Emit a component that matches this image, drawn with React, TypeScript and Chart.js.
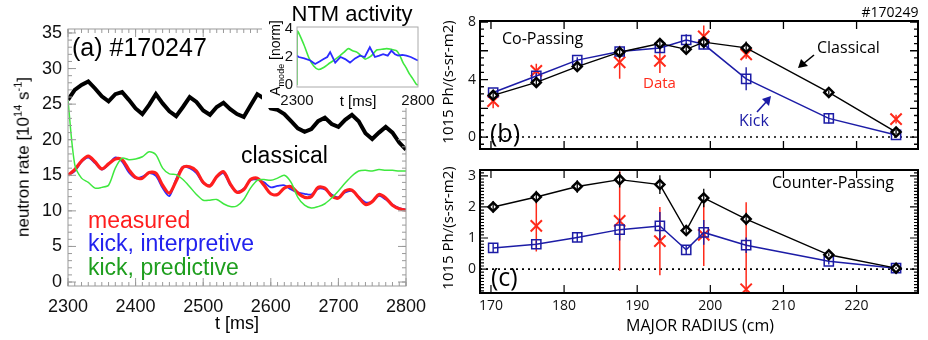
import React, { useEffect, useRef } from "react";
import { Chart, registerables } from "chart.js";

Chart.register(...registerables);

// ---------- panel (a): neutron rate vs time ----------
const TIME_MS = [
  2300, 2310, 2320, 2330, 2340, 2350, 2360, 2370, 2380, 2390,
  2400, 2410, 2420, 2430, 2440, 2450, 2460, 2470, 2480, 2490,
  2500, 2510, 2520, 2530, 2540, 2550, 2560, 2570, 2580, 2590,
  2600, 2610, 2620, 2630, 2640, 2650, 2660, 2670, 2680, 2690,
  2700, 2710, 2720, 2730, 2740, 2750, 2760, 2770, 2780, 2790, 2800,
];
const CLASSICAL = [
  25.6, 27.0, 27.7, 28.2, 27.2, 26.1, 25.4, 26.4, 26.7, 25.6,
  24.4, 23.6, 24.9, 26.4, 25.1, 24.0, 23.3, 24.6, 26.0, 25.3,
  24.1, 23.5, 24.6, 25.2, 24.3, 23.6, 23.2, 24.8, 26.4, 25.8,
  24.4, 24.2, 23.6, 22.6, 21.6, 21.1, 21.5, 22.6, 23.1, 22.2,
  21.8, 22.8, 23.5, 22.6, 20.9, 20.1, 21.0, 21.8, 21.0, 19.6, 18.6,
];
const MEASURED = [
  15.0, 15.8, 17.0, 17.7, 16.9, 15.9, 16.6, 17.3, 17.2, 15.8,
  14.7, 14.6, 15.4, 15.3, 13.6, 12.5, 14.2, 16.1, 16.2, 15.6,
  14.0, 13.5, 14.8, 15.5, 13.8, 12.6, 13.0, 14.4, 14.6, 13.6,
  12.4, 12.3, 13.2, 13.4, 12.5, 11.9, 12.0, 13.3, 13.2, 12.1,
  11.8, 12.8, 12.9, 11.9, 10.9, 11.3, 12.3, 11.8, 10.8, 10.3, 10.1,
];
const KICK_INTERPRETIVE = [
  15.0, 15.6, 16.9, 17.5, 16.7, 15.8, 16.5, 17.5, 16.9, 15.4,
  14.6, 14.8, 15.3, 14.9, 13.2, 12.1, 14.5, 16.2, 16.0, 15.3,
  13.9, 13.6, 14.7, 15.3, 13.6, 12.7, 13.1, 14.3, 14.4, 14.0,
  13.3, 13.5, 13.6, 13.0, 12.6, 12.4, 12.3, 13.1, 13.0, 12.3,
  11.9, 12.6, 12.8, 12.0, 11.2, 11.3, 12.1, 11.6, 10.9, 10.4, 10.2,
];
const KICK_PREDICTIVE = [
  25.5, 16.5, 14.6, 14.0, 13.2, 13.3, 13.6, 16.0, 17.4, 17.2,
  17.3, 17.6, 18.3, 17.9, 16.0, 15.2, 15.1, 14.4, 13.4, 12.3,
  11.5, 11.5, 11.6, 11.0, 10.6, 10.7, 11.6, 13.2, 14.3, 14.4,
  14.3, 14.6, 15.0, 14.0, 11.9, 10.8, 10.4, 10.6, 11.0, 11.8,
  12.8, 13.9, 14.9, 15.6, 15.7, 15.6, 15.8, 15.7, 15.7, 15.6, 15.6,
];
const A_X_TICKS = [2300, 2400, 2500, 2600, 2700, 2800];
const A_Y_TICKS = [0, 5, 10, 15, 20, 25, 30, 35];

// ---------- inset: NTM mode amplitude ----------
const NTM_BLUE_T = [2300, 2307, 2330, 2355, 2375, 2395, 2410, 2425, 2437, 2458, 2480, 2499, 2519, 2540, 2560, 2580, 2601, 2622, 2640, 2656, 2675, 2690, 2705, 2718, 2735, 2752, 2770, 2793, 2800];
const NTM_BLUE = [2.1, 2.0, 1.9, 1.75, 1.5, 1.7, 1.85, 2.0, 2.35, 1.6, 2.0, 1.85, 1.6, 1.9, 2.1, 2.0, 2.7, 2.0, 2.1, 2.2, 2.1, 2.45, 2.2, 2.1, 2.15, 2.1, 2.0, 1.8, 1.75];
const NTM_GREEN_T = [2300, 2301, 2327, 2350, 2369, 2389, 2410, 2430, 2455, 2478, 2495, 2512, 2530, 2547, 2565, 2581, 2595, 2608, 2629, 2650, 2670, 2690, 2711, 2725, 2738, 2752, 2766, 2780, 2793, 2800];
const NTM_GREEN = [0, 3.85, 2.95, 1.9, 1.36, 1.1, 1.25, 1.5, 1.8, 2.1, 2.35, 2.6, 2.45, 2.35, 2.1, 1.85, 1.95, 2.1, 2.5, 2.55, 2.6, 2.55, 2.45, 2.1, 1.6, 1.2, 0.75, 0.4, 0.05, 0];
const NTM_X_TICKS = [2300, 2800];
const NTM_Y_TICKS = [0, 2, 4];

// ---------- panels (b), (c): FIDA profiles vs major radius ----------
const RADIUS_CM = [170.3, 176.2, 181.8, 187.6, 193.1, 196.7, 199.1, 204.9, 216.2, 225.4];

const CO_CLASSICAL = [2.9, 3.8, 4.9, 5.9, 6.5, 6.1, 6.6, 6.2, 3.1, 0.35];
const CO_CLASSICAL_ERR = [0.2, 0.2, 0.2, 0.2, 0.25, 0.2, 0.35, 0.45, 0.15, 0.15];
const CO_KICK = [3.1, 4.25, 5.35, 5.95, 6.2, 6.75, 6.45, 4.05, 1.3, 0.15];
const CO_KICK_ERR = [0.15, 0.2, 0.2, 0.3, 0.3, 0.4, 0.35, 0.8, 0.35, 0.15];
const CO_DATA_R = [170.3, 176.2, 187.6, 193.1, 199.1, 204.9, 225.4];
const CO_DATA = [2.5, 4.6, 5.2, 5.3, 7.0, 5.75, 1.25];
const CO_DATA_ERR = [0.5, 0.5, 1.15, 0.85, 0.75, 0.3, 0.3];

const CTR_CLASSICAL = [2.0, 2.32, 2.66, 2.88, 2.72, 1.24, 2.29, 1.61, 0.46, 0.03];
const CTR_CLASSICAL_ERR = [0.18, 0.2, 0.2, 0.25, 0.3, 0.1, 0.3, 0.2, 0.05, 0.03];
const CTR_KICK = [0.68, 0.8, 1.02, 1.27, 1.39, 0.62, 1.18, 0.77, 0.25, 0.03];
const CTR_KICK_ERR = [0.15, 0.12, 0.15, 0.35, 0.45, 0.15, 0.4, 0.25, 0.1, 0.05];
const CTR_DATA_R = [176.2, 187.6, 193.1, 199.1, 204.9];
const CTR_DATA = [1.39, 1.55, 0.9, 1.1, -0.65];
const CTR_DATA_ERR = [0.82, 1.6, 1.1, 1.0, 2.8];

const R_TICKS = [170, 180, 190, 200, 210, 220];
const CO_Y_TICKS = [0, 4, 8];
const CTR_Y_TICKS = [0, 1, 2, 3];

// ---------- styling ----------
const FONT_A = '"Liberation Sans", Arial, Helvetica, sans-serif';
const FONT_B = '"Open Sans", "Noto Sans", sans-serif';
const RED = "#ff2a1a";
const NAVY = "#1c1ca6";

const pairs = (xs: number[], ys: number[]) => xs.map((x, i) => ({ x, y: ys[i] }));
const steps = (from: number, to: number, step: number) => {
  const out: number[] = [];
  for (let v = from; v <= to + 1e-9; v += step) out.push(Math.round(v * 1000) / 1000);
  return out;
};

// Frame around the plot area with inward-pointing ticks on all four sides.
function frameTicks(o: {
  color: string; width: number; tickWidth: number;
  xMajor: number[]; xMinor: number[]; yMajor: number[]; yMinor: number[];
  majorLen: number; minorLen: number;
}) {
  return {
    id: "frameTicks",
    afterDatasetsDraw(chart: any) {
      const { ctx, chartArea: a, scales } = chart;
      const xs = scales.x, ys = scales.y;
      ctx.save();
      ctx.strokeStyle = o.color;
      ctx.lineWidth = o.tickWidth;
      ctx.beginPath();
      const vx = (list: number[], len: number) => list.forEach((v) => {
        const p = xs.getPixelForValue(v);
        if (p < a.left - 0.5 || p > a.right + 0.5) return;
        ctx.moveTo(p, a.bottom); ctx.lineTo(p, a.bottom - len);
        ctx.moveTo(p, a.top); ctx.lineTo(p, a.top + len);
      });
      const vy = (list: number[], len: number) => list.forEach((v) => {
        const p = ys.getPixelForValue(v);
        if (p < a.top - 0.5 || p > a.bottom + 0.5) return;
        ctx.moveTo(a.left, p); ctx.lineTo(a.left + len, p);
        ctx.moveTo(a.right, p); ctx.lineTo(a.right - len, p);
      });
      vx(o.xMinor, o.minorLen); vx(o.xMajor, o.majorLen);
      vy(o.yMinor, o.minorLen); vy(o.yMajor, o.majorLen);
      ctx.stroke();
      ctx.lineWidth = o.width;
      ctx.strokeRect(a.left, a.top, a.right - a.left, a.bottom - a.top);
      ctx.restore();
    },
  };
}

// Vertical error bars taken from each dataset's `errors` array.
const errorBars = {
  id: "errorBars",
  afterDatasetDraw(chart: any, args: any) {
    const ds = chart.data.datasets[args.index];
    if (!ds.errors) return;
    const { ctx, chartArea: a } = chart;
    const ys = chart.scales.y;
    ctx.save();
    ctx.beginPath();
    ctx.rect(a.left, a.top, a.right - a.left, a.bottom - a.top);
    ctx.clip();
    ctx.strokeStyle = ds.errorColor;
    ctx.lineWidth = ds.errorWidth;
    ctx.beginPath();
    args.meta.data.forEach((el: any, i: number) => {
      const p = ds.data[i];
      const e = ds.errors[i];
      ctx.moveTo(el.x, ys.getPixelForValue(p.y + e));
      ctx.lineTo(el.x, ys.getPixelForValue(p.y - e));
    });
    ctx.stroke();
    ctx.restore();
  },
};

// Dotted zero reference line.
const zeroLine = {
  id: "zeroLine",
  beforeDatasetsDraw(chart: any) {
    const { ctx, chartArea: a } = chart;
    const y = chart.scales.y.getPixelForValue(0);
    ctx.save();
    ctx.strokeStyle = "#000";
    ctx.lineWidth = 1.6;
    ctx.setLineDash([2, 4]);
    ctx.beginPath();
    ctx.moveTo(a.left, y);
    ctx.lineTo(a.right, y);
    ctx.stroke();
    ctx.restore();
  },
};

const fixedTicks = (list: number[]) => (s: any) => {
  s.ticks = list.map((value) => ({ value }));
};

function linearAxis(opts: {
  min: number; max: number; ticks: number[]; show: boolean;
  font: string; size: number; padding: number; vertical: boolean; thickness: number;
}) {
  return {
    type: "linear" as const,
    min: opts.min,
    max: opts.max,
    afterBuildTicks: fixedTicks(opts.ticks),
    afterFit: (s: any) => {
      if (opts.vertical) { s.width = opts.thickness; s.paddingTop = 0; s.paddingBottom = 0; }
      else { s.height = opts.thickness; s.paddingLeft = 0; s.paddingRight = 0; }
    },
    ticks: {
      display: opts.show,
      autoSkip: false,
      maxRotation: 0,
      padding: opts.padding,
      color: "#111",
      font: { family: opts.font, size: opts.size },
      callback: (v: any) => String(v),
    },
    grid: { display: false, drawTicks: false },
    border: { display: false },
  };
}

const baseOptions = (padding: any) => ({
  responsive: false,
  animation: false as const,
  events: [] as any[],
  layout: { padding },
  plugins: { legend: { display: false }, tooltip: { enabled: false } },
});

function makeTimeChart(): any {
  return {
    type: "line",
    data: {
      datasets: [
        { label: "classical", data: pairs(TIME_MS, CLASSICAL), borderColor: "#000", borderWidth: 4, pointRadius: 0, tension: 0 },
        { label: "kick, predictive", data: pairs(TIME_MS, KICK_PREDICTIVE), borderColor: "#3fe83f", borderWidth: 1.5, pointRadius: 0, tension: 0.3 },
        { label: "measured", data: pairs(TIME_MS, MEASURED), borderColor: "#ff1e1e", borderWidth: 3.2, pointRadius: 0, tension: 0.3 },
        { label: "kick, interpretive", data: pairs(TIME_MS, KICK_INTERPRETIVE), borderColor: "#2b2bff", borderWidth: 1.8, pointRadius: 0, tension: 0.3 },
      ],
    },
    options: {
      ...baseOptions({ top: 29, right: 34, bottom: 0, left: 0 }),
      scales: {
        x: linearAxis({ min: 2300, max: 2800, ticks: A_X_TICKS, show: true, font: FONT_A, size: 18, padding: 10, vertical: false, thickness: 54 }),
        y: linearAxis({ min: -0.56, max: 35.56, ticks: A_Y_TICKS, show: true, font: FONT_A, size: 18, padding: 6, vertical: true, thickness: 68 }),
      },
    },
    plugins: [frameTicks({
      color: "#9a9a9a", width: 1, tickWidth: 1,
      xMajor: A_X_TICKS, xMinor: steps(2300, 2800, 10),
      yMajor: A_Y_TICKS, yMinor: steps(0, 35, 1),
      majorLen: 8, minorLen: 4,
    })],
  };
}

function makeInset(): any {
  return {
    type: "line",
    data: {
      datasets: [
        { label: "kick, interpretive", data: pairs(NTM_BLUE_T, NTM_BLUE), borderColor: "#2b2bff", borderWidth: 1.8, pointRadius: 0, tension: 0 },
        { label: "kick, predictive", data: pairs(NTM_GREEN_T, NTM_GREEN), borderColor: "#3fe83f", borderWidth: 1.6, pointRadius: 0, tension: 0.2 },
      ],
    },
    options: {
      ...baseOptions({ top: 27, right: 19, bottom: 0, left: 0 }),
      scales: {
        x: linearAxis({ min: 2300, max: 2800, ticks: NTM_X_TICKS, show: true, font: FONT_A, size: 15, padding: 5, vertical: false, thickness: 21 }),
        y: linearAxis({ min: -0.15, max: 4.15, ticks: NTM_Y_TICKS, show: true, font: FONT_A, size: 15, padding: 4, vertical: true, thickness: 35 }),
      },
    },
    plugins: [frameTicks({
      color: "#aaaaaa", width: 1, tickWidth: 1,
      xMajor: [], xMinor: [], yMajor: [], yMinor: [],
      majorLen: 0, minorLen: 0,
    })],
  };
}

function profileDatasets(cls: number[], clsErr: number[], kick: number[], kickErr: number[], dr: number[], d: number[], dErr: number[]) {
  return [
    {
      label: "Classical", data: pairs(RADIUS_CM, cls), errors: clsErr, errorColor: "#000", errorWidth: 1.3,
      borderColor: "#000", borderWidth: 1.4, tension: 0,
      pointStyle: "rectRot", pointRadius: 4.5, pointBackgroundColor: "#fff", pointBorderColor: "#000", pointBorderWidth: 2.5,
    },
    {
      label: "Kick", data: pairs(RADIUS_CM, kick), errors: kickErr, errorColor: NAVY, errorWidth: 1.4,
      borderColor: NAVY, borderWidth: 1.5, tension: 0,
      pointStyle: "rect", pointRadius: 6.5, pointBackgroundColor: "rgba(255,255,255,0)", pointBorderColor: NAVY, pointBorderWidth: 1.5,
    },
    {
      label: "Data", data: pairs(dr, d), errors: dErr, errorColor: RED, errorWidth: 1.5,
      showLine: false, borderColor: RED,
      pointStyle: "crossRot", pointRadius: 8, pointBorderColor: RED, pointBorderWidth: 2,
    },
  ];
}

function makeCoChart(): any {
  return {
    type: "line",
    data: { datasets: profileDatasets(CO_CLASSICAL, CO_CLASSICAL_ERR, CO_KICK, CO_KICK_ERR, CO_DATA_R, CO_DATA, CO_DATA_ERR) },
    options: {
      ...baseOptions({ top: 21, right: 6, bottom: 0, left: 0 }),
      scales: {
        x: linearAxis({ min: 168.5, max: 228.4, ticks: R_TICKS, show: false, font: FONT_B, size: 14, padding: 4, vertical: false, thickness: 11 }),
        y: linearAxis({ min: -0.83, max: 8.07, ticks: CO_Y_TICKS, show: true, font: FONT_B, size: 14, padding: 4, vertical: true, thickness: 40 }),
      },
    },
    plugins: [zeroLine, errorBars, frameTicks({
      color: "#000", width: 2, tickWidth: 1.3,
      xMajor: R_TICKS, xMinor: [], yMajor: steps(0, 8, 2), yMinor: steps(-0.5, 8, 0.5),
      majorLen: 8, minorLen: 4,
    })],
  };
}

function makeCounterChart(): any {
  return {
    type: "line",
    data: { datasets: profileDatasets(CTR_CLASSICAL, CTR_CLASSICAL_ERR, CTR_KICK, CTR_KICK_ERR, CTR_DATA_R, CTR_DATA, CTR_DATA_ERR) },
    options: {
      ...baseOptions({ top: 5, right: 6, bottom: 0, left: 0 }),
      scales: {
        x: linearAxis({ min: 168.5, max: 228.4, ticks: R_TICKS, show: true, font: FONT_B, size: 14, padding: 5, vertical: false, thickness: 47 }),
        y: linearAxis({ min: -0.77, max: 3.19, ticks: CTR_Y_TICKS, show: true, font: FONT_B, size: 14, padding: 4, vertical: true, thickness: 40 }),
      },
    },
    plugins: [zeroLine, errorBars, frameTicks({
      color: "#000", width: 2, tickWidth: 1.2,
      xMajor: R_TICKS, xMinor: [], yMajor: CTR_Y_TICKS, yMinor: steps(-0.7, 3.1, 0.1),
      majorLen: 8, minorLen: 4,
    })],
  };
}

function ChartCanvas(props: { left: number; top: number; width: number; height: number; make: () => any; bg?: string }) {
  const ref = useRef<HTMLCanvasElement>(null);
  useEffect(() => {
    const chart = new Chart(ref.current as HTMLCanvasElement, props.make());
    return () => chart.destroy();
  }, []);
  return (
    <canvas
      ref={ref}
      width={props.width}
      height={props.height}
      style={{ position: "absolute", left: props.left, top: props.top, width: props.width, height: props.height, background: props.bg || "transparent" }}
    />
  );
}

function Text(props: { x: number; y: number; size: number; color?: string; family?: string; center?: boolean; rotate?: boolean; children: React.ReactNode }) {
  const style: React.CSSProperties = {
    position: "absolute",
    left: props.x,
    top: props.y,
    fontFamily: props.family || FONT_A,
    fontSize: props.size,
    color: props.color || "#000",
    whiteSpace: "nowrap",
    lineHeight: 1,
    transform: props.rotate
      ? "translate(-50%, -50%) rotate(-90deg)"
      : `translate(${props.center ? "-50%" : "0"}, -50%)`,
  };
  return <div style={style}>{props.children}</div>;
}

export default function App() {
  return (
    <div style={{ position: "fixed", left: 0, top: 0, width: 928, height: 340, background: "#fff", overflow: "hidden" }}>
      <ChartCanvas left={0} top={0} width={440} height={340} make={makeTimeChart} />
      <ChartCanvas left={262} top={0} width={175} height={108} make={makeInset} bg="#fff" />
      <ChartCanvas left={440} top={0} width={488} height={160} make={makeCoChart} />
      <ChartCanvas left={440} top={160} width={488} height={180} make={makeCounterChart} />

      {/* panel (a) text */}
      <Text x={72} y={47} size={25}>(a) #170247</Text>
      <Text x={241} y={155} size={23}>classical</Text>
      <Text x={88} y={220} size={23} color="#ff1e1e">measured</Text>
      <Text x={88} y={243} size={23} color="#2222ee">kick, interpretive</Text>
      <Text x={88} y={267} size={23} color="#1e9e1e">kick, predictive</Text>
      <Text x={22} y={157} size={17} rotate>
        neutron rate [10<sup style={{ fontSize: 11 }}>14</sup> s<sup style={{ fontSize: 11 }}>-1</sup>]
      </Text>
      <Text x={237} y={323} size={18} center>t [ms]</Text>

      {/* inset text */}
      <Text x={352} y={14} size={22} center>NTM activity</Text>
      <Text x={358} y={100} size={15} center>t [ms]</Text>
      <Text x={277} y={58} size={14} rotate>
        A<sub style={{ fontSize: 9 }}>mode</sub> [norm]
      </Text>

      {/* panels (b), (c) text */}
      <Text x={890} y={12} size={14} family={FONT_B} center>#170249</Text>
      <Text x={502} y={38} size={16} family={FONT_B}>Co-Passing</Text>
      <Text x={643} y={82} size={15} family={FONT_B} color={RED}>Data</Text>
      <Text x={817} y={47} size={16} family={FONT_B}>Classical</Text>
      <Text x={739} y={120} size={16} family={FONT_B} color={NAVY}>Kick</Text>
      <Text x={490} y={132} size={25} family={FONT_B}>(b)</Text>
      <Text x={772} y={182} size={16} family={FONT_B}>Counter-Passing</Text>
      <Text x={491} y={276} size={25} family={FONT_B}>(c)</Text>
      <Text x={700} y={325} size={16} family={FONT_B} center>MAJOR RADIUS (cm)</Text>
      <Text x={447} y={82} size={15} family={FONT_B} rotate>1015 Ph/(s-sr-m2)</Text>
      <Text x={447} y={228} size={15} family={FONT_B} rotate>1015 Ph/(s-sr-m2)</Text>

      <svg width={928} height={340} style={{ position: "absolute", left: 0, top: 0, pointerEvents: "none" }}>
        <line x1={814} y1={55} x2={803} y2={64} stroke="#000" strokeWidth={1.6} />
        <polygon points="798,68 801,59 808,66" fill="#000" />
        <line x1={757} y1={112} x2={767} y2={101} stroke={NAVY} strokeWidth={1.6} />
        <polygon points="771,96 762,99 769,106" fill={NAVY} />
      </svg>
    </div>
  );
}
